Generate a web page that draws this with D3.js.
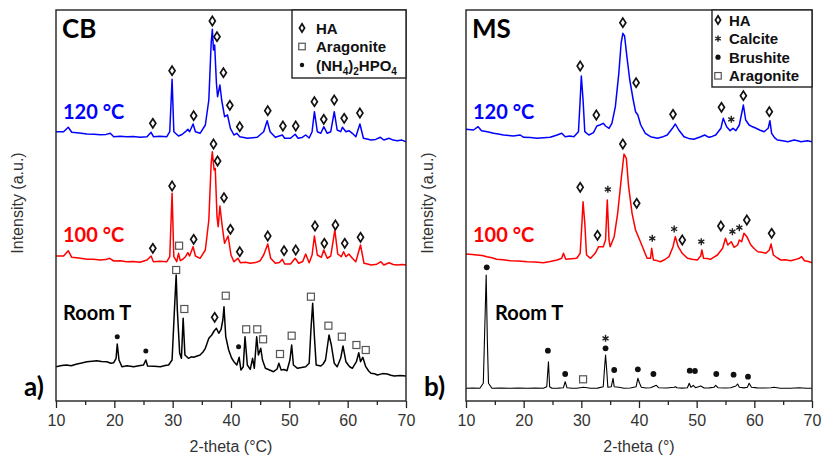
<!DOCTYPE html>
<html>
<head>
<meta charset="utf-8">
<script src="https://cdn.jsdelivr.net/npm/d3@7"></script>
<style>
  html, body { margin: 0; padding: 0; background: #fff; }
  svg { display: block; }
</style>
</head>
<body>
<svg id="chart" width="822" height="459"></svg>
<script>
// ---- Axis ticks ----
const majorTicks = [10, 20, 30, 40, 50, 60, 70];
const minorTicks = [15, 25, 35, 45, 55, 65];

// ---- Samples, stacked bottom to top with a fixed intensity offset ----
const sampleNames = ["Room T", "100 °C", "120 °C"];
const sampleOffsets = [0, 110, 235];

// ---- CB diffractograms: [2-theta, intensity (a.u.)] ----
const cbRoomT = [[10,34.3],[11,35.5],[11.8,36],[12.6,35.2],[13.6,37],[14.4,38],[15.3,39.3],[16.2,39.8],[17,40.3],[17.8,39.5],[18.7,39.3],[19.4,37.8],[19.9,38.3],[20.3,42.7],[20.5,57],[20.8,41],[21.3,34.3],[22.2,35.2],[23.3,34.3],[24.2,35.3],[25,36],[25.4,41],[25.7,35],[26.8,34.8],[27.9,34.3],[28.7,35.4],[29.3,36],[29.9,41],[30.3,91],[30.6,126],[30.8,91],[31.2,47.7],[31.5,42.7],[31.8,82.7],[32.1,46],[32.7,42.7],[33.2,44.2],[33.6,43.7],[34.2,45],[34.7,46],[35.2,49],[35.6,52.7],[36.2,62.7],[36.7,66],[37.1,70],[37.5,72.7],[37.9,67.7],[38.3,71.7],[38.6,81],[38.8,94.3],[39.1,64.3],[39.6,51],[40.1,43],[40.5,39.3],[41,36],[41.4,43.7],[41.7,31],[42.1,34.3],[42.4,64.3],[42.8,36],[43.3,31.7],[43.7,42.7],[44,32.7],[44.4,64.3],[44.7,46],[45.1,52.7],[45.4,41],[45.9,32.7],[46.6,31],[47.3,29.3],[47.9,32],[48.2,37.7],[48.6,31],[49.1,31.5],[49.6,30.3],[50.1,41],[50.4,56],[50.7,36],[51.4,32.7],[52.1,33.6],[52.8,34.3],[53.4,37.7],[53.7,71],[54,97.7],[54.3,64.3],[54.6,36],[55.4,35],[55.8,37],[56.2,41],[56.8,66],[57.2,56],[57.7,37.7],[58.2,34.3],[58.8,42.7],[59.2,55],[59.7,39.3],[60.3,34.5],[60.8,32.7],[61.5,39.3],[61.9,48.3],[62.2,39.3],[62.6,43.7],[63.1,34.3],[63.6,30],[64,27.7],[64.6,27.2],[65.1,26],[66,27.4],[66.8,27],[67.4,25.8],[68,25],[69,25.6],[70,25]];

const cb100 = [[10,35],[11.3,35],[12.1,40.3],[12.7,33.7],[13.9,33],[15.3,31.7],[16.4,31.8],[17.6,31],[18.5,31.4],[19.2,32.7],[19.9,30],[21,30.2],[22.1,29.3],[23.3,29.6],[24.4,28.7],[25.6,31],[26.3,35],[26.7,29.3],[27.8,29.8],[29,29.3],[29.5,34.3],[29.9,97.7],[30.2,34.3],[30.7,29.3],[31,37.7],[31.3,30.3],[31.8,32],[32.2,34.3],[32.6,38.3],[32.9,35],[33.5,44.3],[33.9,35],[34.7,32.7],[35.6,41],[36.2,71],[36.6,127.7],[36.8,139.3],[37.1,121],[37.3,122.7],[37.6,74.3],[37.8,64.3],[38.1,85],[38.5,64.3],[38.9,47.7],[39.5,55],[40,36],[40.5,29.3],[41.2,32.7],[41.6,28.3],[42.5,28.8],[43.3,27.7],[44.2,28.4],[45,30.3],[45.6,36],[46.3,47],[46.8,32.7],[47.6,27.7],[48.3,28.5],[48.8,31.7],[49.2,27],[50.2,27],[51,32.7],[51.6,27.7],[52.3,29.5],[52.8,37],[53.4,28.3],[53.9,36],[54.3,55],[54.8,36],[55.5,33.7],[55.9,41],[56.5,32.7],[57.1,35],[57.8,61],[58.3,37],[58.9,34.3],[59.3,39.3],[59.7,34.3],[60.2,37],[60.8,32.7],[61.4,29.3],[62.2,46],[62.8,27.7],[63.4,27],[64,26],[65,26.8],[65.7,29.3],[66.2,26],[67.1,28.3],[67.8,26.5],[68.5,26],[69.3,26.6],[70,26]];

const cb120 = [[10,34.3],[11.3,34.3],[12.1,38.7],[12.7,33.7],[14,33],[15.3,32],[16.5,31.8],[17.6,31.3],[18.6,31.6],[19.3,32.7],[19.9,29.3],[21,29.7],[22.1,29.3],[23.3,29.6],[24.4,28.7],[25.6,29.3],[26.3,33.7],[26.7,29.3],[27.8,29.8],[29,29.3],[29.5,34.3],[29.9,86.7],[30.2,34.3],[31,30],[31.6,31.5],[32.2,34.3],[32.6,36.7],[32.9,34.3],[33.5,42],[33.9,34.3],[34.7,32.7],[35.6,41],[36.2,66],[36.6,122.7],[36.8,136.7],[37,116],[37.2,121],[37.5,82.7],[37.7,69.3],[38.1,81],[38.4,66],[38.9,49.3],[39.4,51],[39.9,37.7],[40.5,31],[41,32.7],[41.5,29.3],[42.2,28.4],[42.8,27.7],[43.7,28.3],[44.5,28.7],[45.6,34.3],[46.2,45.3],[46.7,34.3],[47.6,28.7],[48.8,31],[49.2,27.7],[50.2,27.7],[51,31.7],[51.5,27.7],[52.2,28.6],[52.8,31],[53.4,28],[53.9,34.3],[54.3,54.3],[54.8,34.3],[55.4,32.7],[55.9,39.3],[56.5,32.7],[57.1,34.3],[57.7,54.3],[58.2,36],[58.8,34.3],[59.1,38.7],[59.7,34.3],[60.2,35.3],[60.8,32.7],[61.4,29.3],[62.1,42],[62.7,27.7],[63.3,26.9],[64,26],[64.8,26.6],[65.6,28.7],[66.2,26],[67.1,27.7],[67.8,25.9],[68.5,25.3],[69.3,25.9],[70,24.3]];

// ---- MS diffractograms: [2-theta, intensity (a.u.)] ----
const msRoomT = [[10,12.7],[11.2,12.9],[12.4,12.7],[13,17.7],[13.2,61],[13.5,126],[13.7,61],[13.9,17.7],[14.5,12.7],[16,12.9],[17.7,12.7],[19,12.9],[20.6,12.7],[22,12.9],[23.4,12.7],[24,14.3],[24.3,39.3],[24.5,14.3],[24.9,12.7],[26,12.9],[26.9,13.3],[27.2,19.3],[27.5,13.3],[28.4,12.8],[29.2,12.7],[30.4,13.7],[31.6,12.7],[32.8,12.9],[33.8,14.3],[34,31],[34.2,46],[34.4,31],[34.6,13.7],[35.2,14.3],[35.5,22.7],[35.7,14.3],[36.5,13.7],[37.4,12.7],[38.5,13],[39.5,14.3],[39.8,22.7],[40.1,17.7],[40.4,13.7],[41.2,13],[42,13.3],[43,15.7],[43.4,13.3],[44.8,13],[46.1,13.7],[46.3,14.3],[46.6,13.2],[47.5,12.9],[48.4,13.3],[48.7,17.7],[49,13.7],[49.4,15.7],[49.8,13.3],[50.7,15],[51.3,13],[52.2,13.1],[53,13.7],[53.3,15.7],[53.7,13.3],[55,13],[55.9,13.3],[56.8,15],[57.1,17],[57.4,13.7],[58.2,13.1],[58.8,13.7],[59.1,17.7],[59.5,13.7],[60.5,13.1],[61.8,13],[62.9,13.3],[63.4,13.7],[64.5,12.8],[66.3,12.7],[67.8,13.3],[69,12.8],[70,12.7]];

const ms100 = [[10,37],[11.1,36.6],[11.9,36],[12.8,35.4],[13.6,34.3],[14.5,33.2],[15.3,31.7],[16.5,31.2],[17.7,30.3],[19.1,30.1],[20.6,29.3],[22,29],[23.4,28.3],[24.6,29.4],[25.8,31],[26.6,32.7],[26.9,37.7],[27.3,31.7],[28.3,32.3],[29.2,32.7],[29.8,37.7],[30.1,67.7],[30.3,89.3],[30.6,67.7],[30.9,36],[31.6,32.7],[32.4,37.7],[33,44.3],[33.8,44.3],[34.2,51],[34.5,91],[34.8,51],[35,44.3],[35.7,54.3],[36.3,77.7],[36.9,111],[37.4,137],[37.8,132.7],[38.2,104.3],[38.8,77.7],[39.4,61],[40,52.7],[40.6,44.3],[41.4,32.7],[42,32.7],[42.2,42.7],[42.5,31],[43.1,30.4],[43.7,29.3],[44.5,31.5],[45.2,34.3],[45.9,44.3],[46.3,54.3],[46.8,44.3],[47.5,37.7],[48.4,32.7],[49.2,31.8],[50.1,31],[50.7,35],[50.9,41],[51.2,32.7],[51.8,32.4],[52.4,31.7],[53,33.8],[53.6,36],[54.5,42.7],[55,52.7],[55.4,46],[56,49.3],[56.5,43.7],[57.1,46],[57.4,51],[57.8,49.3],[58.2,57.7],[58.7,54.3],[59.4,46],[60,42.2],[60.6,39.3],[61.3,38.8],[62,37.7],[62.6,41],[62.9,47],[63.3,36],[64,33],[64.6,31],[65.4,31.2],[66.3,30.3],[67.1,31.4],[67.8,32.7],[68.2,34.3],[68.7,30.3],[69.4,29.5],[70,28.3]];

const ms120 = [[10,36.7],[11.3,36],[12.1,39.3],[12.7,35.3],[13.7,34.2],[14.8,32.7],[15.6,31.9],[16.5,31],[17.4,30.6],[18.2,30],[19.4,31],[20,28.7],[21.2,28.4],[22.3,27.7],[23.5,28.3],[24.6,28.7],[25.8,31],[26.6,32.7],[27.2,29.3],[28,29.9],[28.7,29.3],[29.5,34.3],[29.8,66],[30,90],[30.3,66],[30.6,34.3],[31.3,31],[32.1,33.3],[32.7,40],[33.2,41],[33.8,42.7],[34.2,40],[34.8,37.7],[35.3,42.7],[35.9,59.3],[36.5,92.7],[36.9,122.7],[37.2,132.7],[37.5,130],[37.9,109.3],[38.4,86],[39,66],[39.4,54.3],[39.8,51],[40.3,41],[41.1,32.7],[42,29.3],[42.6,28.6],[43.2,27.7],[44,28.9],[44.9,31],[45.8,37.7],[46.3,42],[46.9,36],[47.8,29.3],[48.6,27.6],[49.5,26.7],[50.7,29.3],[51.4,31],[52.1,28.7],[52.7,29.6],[53.3,31],[54.2,37.7],[54.6,47.7],[55.2,39.3],[55.8,35.3],[56.3,37.7],[56.8,35.3],[57.4,41],[58.1,61],[58.5,46],[59.1,41],[59.7,39.2],[60.3,37.7],[61,35.8],[61.7,34.3],[62.4,37.7],[62.7,45.3],[63,32.7],[63.5,28.4],[64,26],[64.9,25.3],[65.8,24.3],[66.9,26],[67.5,25.2],[68.1,24.3],[69.2,25.3],[70,24.3]];

// ---- Phase identification marks: [sample index, phase, 2-theta, intensity] ----
const cbPhaseMarks = [
  [2,"HA",26.6,42.7],[2,"HA",29.9,95.3],[2,"HA",33.6,50.3],[2,"HA",36.8,145],[2,"HA",37.6,129.3],[2,"HA",38.7,93.3],[2,"HA",39.8,60.7],[2,"HA",41.5,39.3],[2,"HA",46.3,55.3],[2,"HA",48.9,40],[2,"HA",51.1,40],[2,"HA",54.3,64.3],[2,"HA",55.9,46.7],[2,"HA",57.7,66],[2,"HA",59.4,47.7],[2,"HA",62.1,53],
  [1,"HA",26.6,42.7],[1,"HA",29.9,105],[1,"Ar",31.1,45.3],[1,"HA",33.6,51.7],[1,"HA",37.0,147],[1,"HA",37.7,130],[1,"HA",38.8,93.3],[1,"HA",39.9,61.7],[1,"HA",41.5,39.3],[1,"HA",46.3,55],[1,"HA",49.1,40.3],[1,"HA",51.1,41],[1,"HA",54.4,65],[1,"HA",56.0,47.7],[1,"HA",57.9,66],[1,"HA",59.5,47.7],[1,"HA",62.2,53.7],
  [0,"NH",20.5,64.3],[0,"NH",25.4,50],[0,"Ar",30.6,131],[0,"Ar",32.0,92],[0,"HA",37.2,83.7],[0,"Ar",39.1,105.3],[0,"NH",41.3,54.3],[0,"Ar",42.6,71.7],[0,"Ar",44.5,71.7],[0,"Ar",45.5,61.7],[0,"Ar",48.4,47],[0,"Ar",50.4,65.3],[0,"Ar",53.7,104.3],[0,"Ar",56.7,75.3],[0,"Ar",59.0,64.3],[0,"Ar",61.5,56],[0,"Ar",63.1,51]
];
const msPhaseMarks = [
  [2,"HA",29.8,100],[2,"HA",32.6,51],[2,"HA",37.2,143.3],[2,"HA",39.5,83.3],[2,"HA",45.9,51.7],[2,"HA",54.3,58.7],[2,"Ca",56.0,46.7],[2,"HA",58.1,70.3],[2,"HA",62.6,54.3],
  [1,"HA",29.8,103.7],[1,"HA",32.8,55.7],[1,"Ca",34.6,101.7],[1,"HA",37.2,147],[1,"HA",39.6,87.7],[1,"Ca",42.3,52.7],[1,"Ca",46.1,62],[1,"HA",47.5,51],[1,"Ca",50.8,49.3],[1,"HA",54.2,65],[1,"Ca",56.2,59.3],[1,"Ca",57.4,63.3],[1,"HA",58.7,71],[1,"HA",63.0,57.7],
  [0,"Br",13.6,133.7],[0,"Br",24.2,50.3],[0,"Br",27.2,27],[0,"Ar",30.3,21.7],[0,"Br",34.2,52.7],[0,"Ca",34.2,62.7],[0,"Br",35.7,31],[0,"Br",39.8,31.7],[0,"Br",42.5,27],[0,"Br",48.8,30.3],[0,"Br",49.7,30],[0,"Br",53.4,27],[0,"Br",56.4,26.3],[0,"Br",58.9,24.3]
];

// ---- Legend entries ----
const cbLegend = [["HA","HA"],["Ar","Aragonite"],["NH","(NH4)2HPO4"]];
const msLegend = [["HA","HA"],["Ca","Calcite"],["Br","Brushite"],["Ar","Aragonite"]];

// ---- Styling ----
const sampleColors = ["#000000", "#ff0000", "#0000ff"];
const sansFont = "'Liberation Sans', Arial, sans-serif";
const boldFont = "Lato, 'Open Sans', sans-serif";

const svg = d3.select("#chart");
svg.append("rect").attr("width", 822).attr("height", 459).attr("fill", "#fff");

const yScale = d3.scaleLinear().domain([0, 391]).range([401, 10]);

const panels = [
  {
    key: "cb", title: "CB", tag: "a)", left: 56, right: 406, tagX: 24,
    traces: [cbRoomT, cb100, cb120], marks: cbPhaseMarks, legend: cbLegend,
    traceWidths: [1.5, 1.5, 1.5],
    xTitle: "2-theta (°C)", yTitleX: 23,
    legendBox: { x: 292, y: 10, w: 114, h: 68, rowY: 28, rowStep: 18.5, symX: 302, textX: 316 },
    labelX: [63, 63, 63], dotR: 2.5
  },
  {
    key: "ms", title: "MS", tag: "b)", left: 466, right: 812, tagX: 424,
    traces: [msRoomT, ms100, ms120], marks: msPhaseMarks, legend: msLegend,
    traceWidths: [1.1, 1.5, 1.5],
    xTitle: "2-theta (°)", yTitleX: 433,
    legendBox: { x: 712, y: 10, w: 100, h: 77, rowY: 20, rowStep: 18.6, symX: 718, textX: 729 },
    labelX: [495, 473, 473], dotR: 2.9
  }
];

const labelBaselines = [320, 241.7, 119];

function diamondPath(w, h) {
  return `M0,${-h}L${w},0L0,${h}L${-w},0Z`;
}

function drawMark(g, kind, x, y, p, small) {
  if (kind === "HA") {
    g.append("path").attr("d", diamondPath(small ? 2.6 : 3, small ? 4.2 : 4.6))
      .attr("transform", `translate(${x},${y})`)
      .attr("fill", "#fff").attr("stroke", "#111").attr("stroke-width", 1.7);
  } else if (kind === "Ar") {
    const s = small ? 6.5 : 7;
    g.append("rect").attr("x", x - s / 2).attr("y", y - s / 2).attr("width", s).attr("height", s)
      .attr("fill", "none").attr("stroke", "#555").attr("stroke-width", 1.2);
  } else if (kind === "NH" || kind === "Br") {
    g.append("circle").attr("cx", x).attr("cy", y).attr("r", small ? p.dotR - 0.3 : p.dotR).attr("fill", "#111");
  } else if (kind === "Ca") {
    g.append("path").attr("d", d3.symbol(d3.symbolAsterisk, small ? 28 : 34)())
      .attr("transform", `translate(${x},${y})`)
      .attr("fill", "none").attr("stroke", "#222").attr("stroke-width", 1.4);
  }
}

panels.forEach(p => {
  const x = d3.scaleLinear().domain([10, 70]).range([p.left, p.right]);
  const g = svg.append("g").attr("class", "panel-" + p.key);

  const clipId = "clip-" + p.key;
  svg.append("clipPath").attr("id", clipId)
    .append("rect").attr("x", p.left).attr("y", 10).attr("width", p.right - p.left).attr("height", 391);

  // Diffractogram traces
  const line = d3.line()
    .x(d => x(d[0]));
  p.traces.forEach((data, i) => {
    g.append("path")
      .datum(data)
      .attr("clip-path", `url(#${clipId})`)
      .attr("fill", "none")
      .attr("stroke", sampleColors[i])
      .attr("stroke-width", p.traceWidths[i])
      .attr("stroke-linejoin", "round")
      .attr("d", line.y(d => yScale(d[1] + sampleOffsets[i])));
  });

  // Frame
  g.append("rect").attr("x", p.left).attr("y", 10)
    .attr("width", p.right - p.left).attr("height", 391)
    .attr("fill", "none").attr("stroke", "#222").attr("stroke-width", 1.4);

  // Bottom axis: major ticks with labels, minor ticks without
  const axisG = g.append("g").attr("transform", "translate(0,401)");
  axisG.call(d3.axisBottom(x).tickValues(majorTicks).tickSizeInner(7).tickSizeOuter(0).tickPadding(7).tickFormat(d3.format("d")));
  axisG.append("g").call(d3.axisBottom(x).tickValues(minorTicks).tickSizeInner(4).tickSizeOuter(0).tickFormat(""));
  axisG.selectAll(".domain").remove();
  axisG.selectAll(".tick line").attr("stroke", "#222").attr("stroke-width", 1.3);
  axisG.selectAll(".tick text").attr("font-family", sansFont).attr("font-size", 16).attr("fill", "#333");

  // Axis titles
  g.append("text").attr("x", (p.left + p.right) / 2).attr("y", 452)
    .attr("text-anchor", "middle").attr("font-family", sansFont).attr("font-size", 16).attr("fill", "#333")
    .text(p.xTitle);
  g.append("text").attr("transform", `translate(${p.yTitleX},203) rotate(-90)`)
    .attr("text-anchor", "middle").attr("font-family", sansFont).attr("font-size", 16).attr("fill", "#333")
    .text("Intensity (a.u.)");

  // Phase marks above peaks
  const markG = g.append("g");
  p.marks.forEach(m => {
    drawMark(markG, m[1], x(m[2]), yScale(m[3] + sampleOffsets[m[0]]), p, false);
  });

  // Sample labels
  sampleNames.forEach((name, i) => {
    g.append("text").attr("x", p.labelX[i]).attr("y", labelBaselines[i])
      .attr("font-family", boldFont).attr("font-weight", 700).attr("font-size", 20)
      .attr("fill", sampleColors[i]).text(name);
  });

  // Panel title and tag
  g.append("text").attr("x", p.left + 6).attr("y", 38)
    .attr("font-family", boldFont).attr("font-weight", 700).attr("font-size", 26).attr("fill", "#000")
    .text(p.title);
  g.append("text").attr("x", p.tagX).attr("y", 396)
    .attr("font-family", boldFont).attr("font-weight", 700).attr("font-size", 26).attr("fill", "#000")
    .text(p.tag);

  // Legend
  const lb = p.legendBox;
  const lg = g.append("g");
  lg.append("rect").attr("x", lb.x).attr("y", lb.y).attr("width", lb.w).attr("height", lb.h)
    .attr("fill", "#fff").attr("stroke", "#222").attr("stroke-width", 1.4);
  p.legend.forEach((entry, i) => {
    const cy = lb.rowY + i * lb.rowStep;
    drawMark(lg, entry[0], lb.symX, cy, p, true);
    const t = lg.append("text").attr("x", lb.textX).attr("y", cy + 5.5)
      .attr("font-family", sansFont).attr("font-weight", 700).attr("font-size", 15).attr("fill", "#111");
    if (entry[1] === "(NH4)2HPO4") {
      t.append("tspan").text("(NH");
      t.append("tspan").attr("font-size", 10).attr("dy", 4).text("4");
      t.append("tspan").attr("dy", -4).text(")");
      t.append("tspan").attr("font-size", 10).attr("dy", 4).text("2");
      t.append("tspan").attr("dy", -4).text("HPO");
      t.append("tspan").attr("font-size", 10).attr("dy", 4).text("4");
    } else {
      t.text(entry[1]);
    }
  });
});
</script>
</body>
</html>
